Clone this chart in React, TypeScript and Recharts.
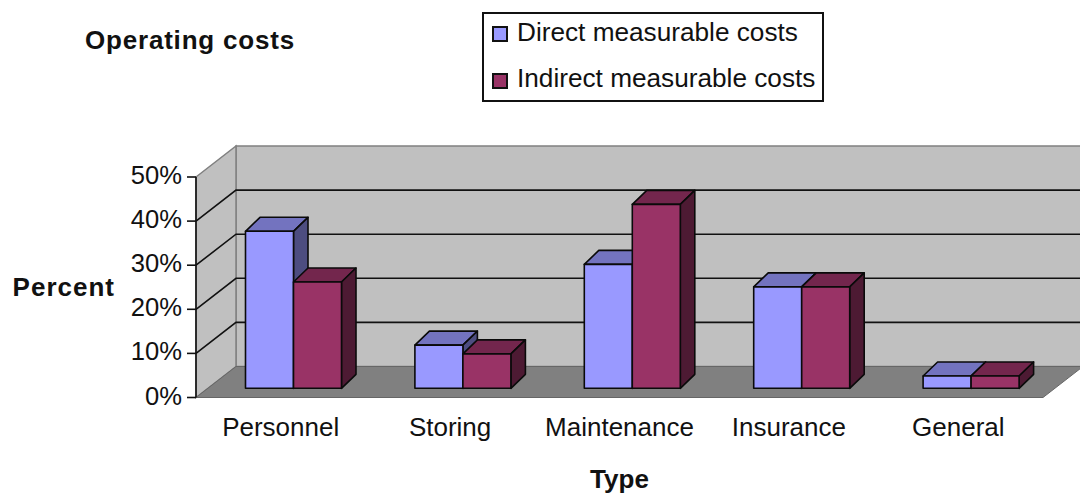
import React from 'react';
import { Bar, BarChart, CartesianGrid, Legend, XAxis, YAxis } from 'recharts';

const categories = ['Personnel', 'Storing', 'Maintenance', 'Insurance', 'General'];
const directCosts = [35.6, 9.8, 28.1, 23, 2.8];
const indirectCosts = [24.1, 7.8, 41.7, 23, 2.8];
const percentTicks = [0, 10, 20, 30, 40, 50];

const data = categories.map((name, i) => ({
  name,
  direct: directCosts[i],
  indirect: indirectCosts[i],
}));

const FONT = '"Liberation Sans", Arial, sans-serif';
const WIDTH = 1080;
const HEIGHT = 493;
const PLOT = { left: 196, right: 1043, top: 177, bottom: 397.5 };

// depth of the box the bars stand in, and where the bars sit inside it
const WALL_DX = 40;
const WALL_DY = 31;
const BAR_SHIFT_X = 12.5;
const BAR_SHIFT_Y = 9.2;
const BAR_DX = 14.5;
const BAR_DY = 14;

const pts = (...p: number[][]) => p.map((c) => c.join(',')).join(' ');

// back wall, side wall and floor sit in their own svg underneath the chart
const Walls = () => {
  const { left, right, top, bottom } = PLOT;
  const backTop = top - WALL_DY;
  const backBottom = bottom - WALL_DY;
  const backLeft = left + WALL_DX;
  const backRight = right + WALL_DX;
  return (
    <svg width={WIDTH} height={HEIGHT} style={{ position: 'absolute', left: 0, top: 0 }}>
      <polygon
        points={pts([backLeft, backTop], [backRight, backTop], [backRight, backBottom], [backLeft, backBottom])}
        fill="#c0c0c0"
        stroke="#808080"
        strokeWidth={1.5}
      />
      <polygon
        points={pts([left, top], [backLeft, backTop], [backLeft, backBottom], [left, bottom])}
        fill="#c0c0c0"
        stroke="#808080"
        strokeWidth={1.5}
      />
      <polygon
        points={pts([left, bottom], [backLeft, backBottom], [backRight, backBottom], [right, bottom])}
        fill="#808080"
        stroke="#666666"
        strokeWidth={1}
      />
    </svg>
  );
};

// gridline running up the side wall and along the back wall
const WallGridLine = (props: any) => {
  const { x1, x2, y1 } = props;
  if (y1 <= PLOT.top + 1 || y1 >= PLOT.bottom - 1) return <g key={`grid-${y1}`} />;
  return (
    <polyline
      key={`grid-${y1}`}
      points={pts([x1, y1], [x1 + WALL_DX, y1 - WALL_DY], [x2 + WALL_DX, y1 - WALL_DY])}
      fill="none"
      stroke="#111111"
      strokeWidth={1.6}
    />
  );
};

const makeBox = (front: string, topFace: string, sideFace: string) => (props: any) => {
  const { x, y, width, height } = props;
  const fx = x + BAR_SHIFT_X;
  const fy = y - BAR_SHIFT_Y;
  const fr = fx + width;
  const fb = fy + height;
  return (
    <g stroke="#0a0a0a" strokeWidth={1.6} strokeLinejoin="round">
      <polygon
        points={pts([fx, fy], [fx + BAR_DX, fy - BAR_DY], [fr + BAR_DX, fy - BAR_DY], [fr, fy])}
        fill={topFace}
      />
      <polygon
        points={pts([fr, fy], [fr + BAR_DX, fy - BAR_DY], [fr + BAR_DX, fb - BAR_DY], [fr, fb])}
        fill={sideFace}
      />
      <rect x={fx} y={fy} width={width} height={height} fill={front} />
    </g>
  );
};

const DirectBox = makeBox('#9999ff', '#7373bf', '#4d4d80');
const IndirectBox = makeBox('#993366', '#73264d', '#4d1a33');

const LegendBox = ({ payload }: any) => (
  <div
    style={{
      boxSizing: 'border-box',
      width: 342,
      height: 90,
      border: '2px solid #111',
      background: '#fff',
      position: 'relative',
      fontFamily: FONT,
      fontSize: 26.2,
      color: '#111',
    }}
  >
    {(payload || []).map((item: any, i: number) => (
      <div
        key={item.value}
        style={{ position: 'absolute', left: 8, top: 4 + i * 46.5, height: 28, display: 'flex', alignItems: 'center', whiteSpace: 'nowrap' }}
      >
        <span
          style={{
            display: 'inline-block',
            boxSizing: 'border-box',
            width: 16,
            height: 16,
            marginTop: 4,
            marginRight: 9,
            background: item.color,
            border: '2px solid #111',
          }}
        />
        {item.value}
      </div>
    ))}
  </div>
);

export default function App() {
  return (
    <div style={{ position: 'absolute', left: 0, top: 0, width: WIDTH, height: HEIGHT, overflow: 'hidden', background: '#fff' }}>
      <Walls />
      <BarChart
        width={WIDTH + 10}
        height={HEIGHT}
        data={data}
        barSize={48}
        barGap={0}
        margin={{ top: PLOT.top, right: WIDTH + 10 - PLOT.right, bottom: HEIGHT - PLOT.bottom - 60, left: PLOT.left - 70 }}
      >
        <CartesianGrid horizontal={WallGridLine} vertical={false} horizontalValues={percentTicks} />
        <text x={85} y={49} fontFamily={FONT} fontSize={26} fontWeight="bold" letterSpacing={0.8} fill="#111">
          Operating costs
        </text>
        <XAxis
          dataKey="name"
          interval={0}
          height={60}
          tickLine={false}
          axisLine={{ stroke: '#666666', strokeWidth: 1 }}
          tickMargin={14}
          tick={{ fontFamily: FONT, fontSize: 26, fill: '#111' }}
          label={{ value: 'Type', position: 'insideBottom', offset: -30, fontFamily: FONT, fontSize: 26, fontWeight: 'bold', fill: '#111' }}
        />
        <YAxis
          width={70}
          domain={[0, 50]}
          ticks={percentTicks}
          tickFormatter={(v: number) => `${v}%`}
          tickSize={9}
          tickMargin={5}
          axisLine={{ stroke: '#111111', strokeWidth: 1.6 }}
          tickLine={{ stroke: '#111111', strokeWidth: 1.6 }}
          tick={{ fontFamily: FONT, fontSize: 25.6, fill: '#111', dy: -2 }}
          label={{ value: 'Percent', position: 'left', offset: 11, fontFamily: FONT, fontSize: 26, fontWeight: 'bold', letterSpacing: 1, fill: '#111' }}
        />
        <Legend
          layout="horizontal"
          verticalAlign="middle"
          align="center"
          wrapperStyle={{ left: 482, top: 12, width: 342, height: 90 }}
          content={LegendBox}
        />
        <Bar dataKey="direct" name="Direct measurable costs" fill="#9999ff" shape={DirectBox} isAnimationActive={false} />
        <Bar dataKey="indirect" name="Indirect measurable costs" fill="#993366" shape={IndirectBox} isAnimationActive={false} />
      </BarChart>
    </div>
  );
}
